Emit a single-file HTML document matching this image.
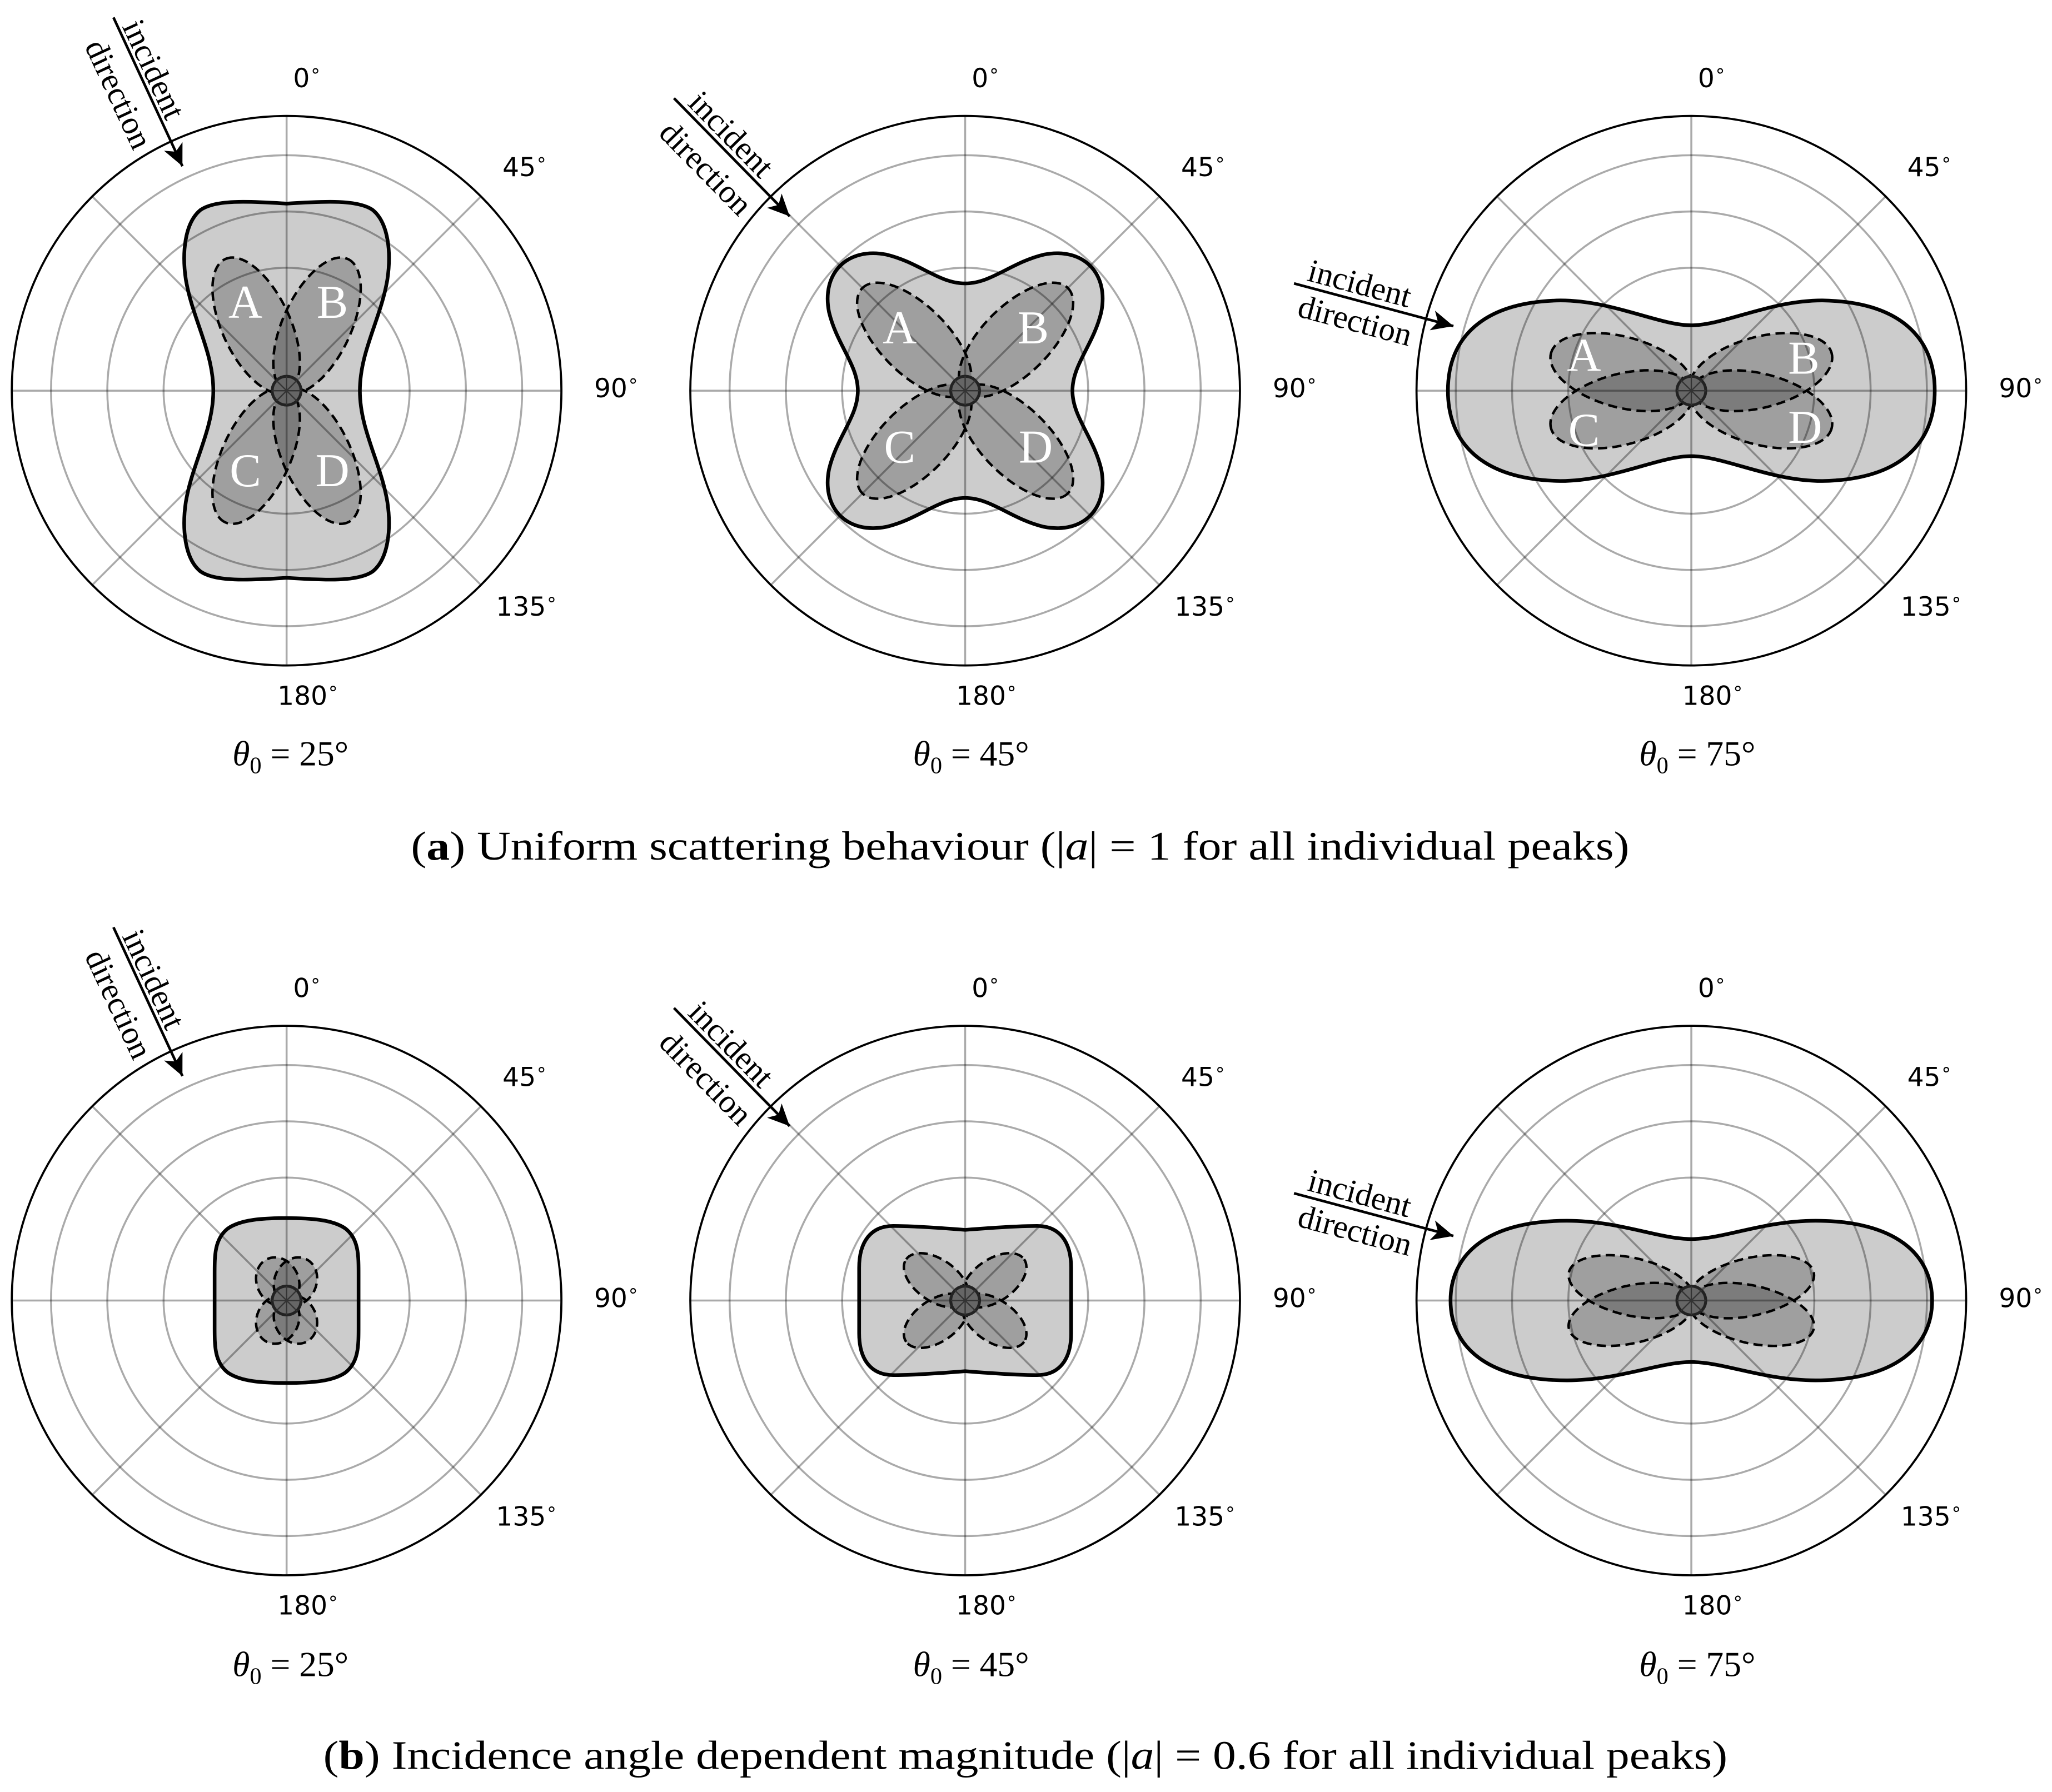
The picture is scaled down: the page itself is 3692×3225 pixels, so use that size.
<!DOCTYPE html>
<html><head><meta charset="utf-8">
<style>
html,body{margin:0;padding:0;background:#fff;}
svg{display:block;}
.grid{stroke:#aaaaaa;stroke-width:1.5;fill:none;mix-blend-mode:multiply;}
.lobe{fill:#000;fill-opacity:0.22;stroke:none;}
.lobed{fill:none;stroke:#000;stroke-width:1.9;stroke-dasharray:7 4;}
.shp{fill:#cccccc;stroke:none;}
.shps{fill:none;stroke:#000;stroke-width:2.8;}
</style></head>
<body>
<svg width="3692" height="3225" viewBox="0 0 1568 1369.6" xmlns="http://www.w3.org/2000/svg">
<defs>
<marker id="ah" markerUnits="userSpaceOnUse" markerWidth="20" markerHeight="20" refX="0" refY="0" viewBox="-16 -8 18 16" orient="auto">
<path d="M0,0 L-15,-7 L-11,0 L-15,7 Z" fill="#000"/>
</marker>
<g id="grid">
<circle class="grid" r="94"/><circle class="grid" r="137"/><circle class="grid" r="180"/>
<path class="grid" d="M0,-210V210M-210,0H210M-148.5,-148.5L148.5,148.5M148.5,-148.5L-148.5,148.5"/>
</g>
<g id="frame">
<circle r="11" fill="#666" stroke="#222" stroke-width="2.2"/>
<path d="M0,-11V11M-11,0H11M-7.8,-7.8L7.8,7.8M7.8,-7.8L-7.8,7.8" stroke="#333" stroke-width="1"/>
<circle r="210" fill="none" stroke="#000" stroke-width="1.6"/>
<g style="font-family:'DejaVu Sans','Liberation Sans',sans-serif;font-size:20px" fill="#000">
<text x="5" y="-232">0<tspan font-size="14" dy="-8">∘</tspan></text>
<text x="165" y="-164">45<tspan font-size="14" dy="-8">∘</tspan></text>
<text x="235" y="5">90<tspan font-size="14" dy="-8">∘</tspan></text>
<text x="160" y="172">135<tspan font-size="14" dy="-8">∘</tspan></text>
<text x="-7" y="240">180<tspan font-size="14" dy="-8">∘</tspan></text>
</g>
</g>
<path id="s1" d="M0,-143 C30,-145 55,-146 66,-138 C78,-128 80,-105 77,-85 C72,-55 56,-30 56,0 C56,30 72,55 77,85 C80,105 78,128 66,138 C55,146 30,145 0,143 C-30,145 -55,146 -66,138 C-78,128 -80,105 -77,85 C-72,55 -56,30 -56,0 C-56,-30 -72,-55 -77,-85 C-80,-105 -78,-128 -66,-138 C-55,-146 -30,-145 0,-143 Z"/>
<path id="s2" d="M0,-82 C20,-82 35,-98 60,-104 C90,-110 110,-90 104,-60 C98,-35 82,-20 82,0 C82,20 98,35 104,60 C110,90 90,110 60,104 C35,98 20,82 0,82 C-20,82 -35,98 -60,104 C-90,110 -110,90 -104,60 C-98,35 -82,20 -82,0 C-82,-20 -98,-35 -104,-60 C-110,-90 -90,-110 -60,-104 C-35,-98 -20,-82 0,-82 Z"/>
<path id="s3" d="M-186,0 C-186,-40 -160,-68 -100,-69 C-60,-69 -25,-50 0,-50 C25,-50 60,-69 100,-69 C160,-68 186,-40 186,0 C186,40 160,68 100,69 C60,69 25,50 0,50 C-25,50 -60,69 -100,69 C-160,68 -186,40 -186,0 Z"/>
<path id="b1" d="M0,-63 C18,-63 35,-62 45,-55 C55,-47 55,-35 55,-20 L55,20 C55,35 55,47 45,55 C35,62 18,63 0,63 C-18,63 -35,62 -45,55 C-55,47 -55,35 -55,20 L-55,-20 C-55,-35 -55,-47 -45,-55 C-35,-62 -18,-63 0,-63 Z"/>
<path id="b2" d="M0,-54 C25,-56 45,-57 55,-57 C72,-57 81,-45 81,-25 L81,25 C81,45 72,57 55,57 C45,57 25,56 0,54 C-25,56 -45,57 -55,57 C-72,57 -81,45 -81,25 L-81,-25 C-81,-45 -72,-57 -55,-57 C-45,-57 -25,-56 0,-54 Z"/>
<path id="b3" d="M-184,0 C-184,-36 -155,-61 -95,-61 C-55,-61 -25,-47 0,-47 C25,-47 55,-61 95,-61 C155,-61 184,-36 184,0 C184,36 155,61 95,61 C55,61 25,47 0,47 C-25,47 -55,61 -95,61 C-155,61 -184,36 -184,0 Z"/>
</defs>

<g style="font-family:'Liberation Serif',serif;font-size:36px" fill="#fff" text-anchor="middle" dominant-baseline="central">
</g>

<!-- ===== TOP ROW ===== -->
<g transform="translate(219,298.6)">
<use href="#s1" class="shp"/>
<g class="lobe">
<ellipse transform="rotate(245)" cx="55" rx="56" ry="26"/><ellipse transform="rotate(-65)" cx="55" rx="56" ry="26"/>
<ellipse transform="rotate(115)" cx="55" rx="56" ry="26"/><ellipse transform="rotate(65)" cx="55" rx="56" ry="26"/>
</g>
<use href="#grid"/>
<g class="lobed">
<ellipse transform="rotate(245)" cx="55" rx="56" ry="26"/><ellipse transform="rotate(-65)" cx="55" rx="56" ry="26"/>
<ellipse transform="rotate(115)" cx="55" rx="56" ry="26"/><ellipse transform="rotate(65)" cx="55" rx="56" ry="26"/>
</g>
<use href="#s1" class="shps"/>
<use href="#frame"/>
<g style="font-family:'Liberation Serif',serif;font-size:36px" fill="#fff" text-anchor="middle" dominant-baseline="central">
<text x="-31.5" y="-67.5">A</text><text x="35" y="-67.5">B</text>
<text x="-31.5" y="61">C</text><text x="35" y="61">D</text>
</g>
</g>

<g transform="translate(737.5,298.6)">
<use href="#s2" class="shp"/>
<g class="lobe">
<ellipse transform="rotate(225)" cx="55" rx="56" ry="26"/><ellipse transform="rotate(-45)" cx="55" rx="56" ry="26"/>
<ellipse transform="rotate(135)" cx="55" rx="56" ry="26"/><ellipse transform="rotate(45)" cx="55" rx="56" ry="26"/>
</g>
<use href="#grid"/>
<g class="lobed">
<ellipse transform="rotate(225)" cx="55" rx="56" ry="26"/><ellipse transform="rotate(-45)" cx="55" rx="56" ry="26"/>
<ellipse transform="rotate(135)" cx="55" rx="56" ry="26"/><ellipse transform="rotate(45)" cx="55" rx="56" ry="26"/>
</g>
<use href="#s2" class="shps"/>
<use href="#frame"/>
<g style="font-family:'Liberation Serif',serif;font-size:36px" fill="#fff" text-anchor="middle" dominant-baseline="central">
<text x="-50" y="-48">A</text><text x="52" y="-48">B</text>
<text x="-50" y="43">C</text><text x="54" y="43">D</text>
</g>
</g>

<g transform="translate(1292.4,298.6)">
<use href="#s3" class="shp"/>
<g class="lobe">
<ellipse transform="rotate(195)" cx="55" rx="56" ry="27"/><ellipse transform="rotate(-15)" cx="55" rx="56" ry="27"/>
<ellipse transform="rotate(165)" cx="55" rx="56" ry="27"/><ellipse transform="rotate(15)" cx="55" rx="56" ry="27"/>
</g>
<use href="#grid"/>
<g class="lobed">
<ellipse transform="rotate(195)" cx="55" rx="56" ry="27"/><ellipse transform="rotate(-15)" cx="55" rx="56" ry="27"/>
<ellipse transform="rotate(165)" cx="55" rx="56" ry="27"/><ellipse transform="rotate(15)" cx="55" rx="56" ry="27"/>
</g>
<use href="#s3" class="shps"/>
<use href="#frame"/>
<g style="font-family:'Liberation Serif',serif;font-size:36px" fill="#fff" text-anchor="middle" dominant-baseline="central">
<text x="-82" y="-27">A</text><text x="86" y="-25">B</text>
<text x="-82" y="30">C</text><text x="87" y="28">D</text>
</g>
</g>

<!-- ===== BOTTOM ROW ===== -->
<g transform="translate(219,994)">
<use href="#b1" class="shp"/>
<g class="lobe">
<ellipse transform="rotate(245)" cx="16" rx="19" ry="16"/><ellipse transform="rotate(-65)" cx="16" rx="19" ry="16"/>
<ellipse transform="rotate(115)" cx="16" rx="19" ry="16"/><ellipse transform="rotate(65)" cx="16" rx="19" ry="16"/>
</g>
<use href="#grid"/>
<g class="lobed">
<ellipse transform="rotate(245)" cx="16" rx="19" ry="16"/><ellipse transform="rotate(-65)" cx="16" rx="19" ry="16"/>
<ellipse transform="rotate(115)" cx="16" rx="19" ry="16"/><ellipse transform="rotate(65)" cx="16" rx="19" ry="16"/>
</g>
<use href="#b1" class="shps"/>
<use href="#frame"/>
</g>

<g transform="translate(737.5,994)">
<use href="#b2" class="shp"/>
<g class="lobe">
<ellipse transform="rotate(215)" cx="27" rx="28" ry="16"/><ellipse transform="rotate(-35)" cx="27" rx="28" ry="16"/>
<ellipse transform="rotate(145)" cx="27" rx="28" ry="16"/><ellipse transform="rotate(35)" cx="27" rx="28" ry="16"/>
</g>
<use href="#grid"/>
<g class="lobed">
<ellipse transform="rotate(215)" cx="27" rx="28" ry="16"/><ellipse transform="rotate(-35)" cx="27" rx="28" ry="16"/>
<ellipse transform="rotate(145)" cx="27" rx="28" ry="16"/><ellipse transform="rotate(35)" cx="27" rx="28" ry="16"/>
</g>
<use href="#b2" class="shps"/>
<use href="#frame"/>
</g>

<g transform="translate(1292.4,994)">
<use href="#b3" class="shp"/>
<g class="lobe">
<ellipse transform="rotate(193)" cx="47" rx="49" ry="22"/><ellipse transform="rotate(-13)" cx="47" rx="49" ry="22"/>
<ellipse transform="rotate(167)" cx="47" rx="49" ry="22"/><ellipse transform="rotate(13)" cx="47" rx="49" ry="22"/>
</g>
<use href="#grid"/>
<g class="lobed">
<ellipse transform="rotate(193)" cx="47" rx="49" ry="22"/><ellipse transform="rotate(-13)" cx="47" rx="49" ry="22"/>
<ellipse transform="rotate(167)" cx="47" rx="49" ry="22"/><ellipse transform="rotate(13)" cx="47" rx="49" ry="22"/>
</g>
<use href="#b3" class="shps"/>
<use href="#frame"/>
</g>

<!-- ===== incident arrows ===== -->
<g id="arr1">
<line x1="86.7" y1="13.3" x2="139.4" y2="127" stroke="#000" stroke-width="2" marker-end="url(#ah)"/>
<text style="font-family:'Liberation Serif',serif;font-size:25px" text-anchor="middle" dominant-baseline="central" transform="translate(117.6,53) rotate(65)">incident</text>
<text style="font-family:'Liberation Serif',serif;font-size:25px" text-anchor="middle" dominant-baseline="central" transform="translate(90.7,72) rotate(65)">direction</text>
</g>
<g id="arr2">
<line x1="515" y1="75" x2="603.4" y2="165.3" stroke="#000" stroke-width="2" marker-end="url(#ah)"/>
<text style="font-family:'Liberation Serif',serif;font-size:25px" text-anchor="middle" dominant-baseline="central" transform="translate(558.8,102.6) rotate(45.6)">incident</text>
<text style="font-family:'Liberation Serif',serif;font-size:25px" text-anchor="middle" dominant-baseline="central" transform="translate(539.4,128.6) rotate(45.6)">direction</text>
</g>
<g id="arr3">
<line x1="988.8" y1="216.6" x2="1110.6" y2="249.2" stroke="#000" stroke-width="2" marker-end="url(#ah)"/>
<text style="font-family:'Liberation Serif',serif;font-size:25px" text-anchor="middle" dominant-baseline="central" transform="translate(1039,216.6) rotate(15)">incident</text>
<text style="font-family:'Liberation Serif',serif;font-size:25px" text-anchor="middle" dominant-baseline="central" transform="translate(1035.5,245) rotate(15)">direction</text>
</g>
<use href="#arr1" y="695.4"/>
<use href="#arr2" y="695.4"/>
<use href="#arr3" y="695.4"/>

<!-- ===== theta labels ===== -->
<g style="font-family:'Liberation Serif',serif;font-size:27px" text-anchor="middle" fill="#000">
<text x="222" y="585"><tspan font-style="italic">θ</tspan><tspan font-size="18" dy="6">0</tspan><tspan dy="-6"> = 25°</tspan></text>
<text x="742" y="585"><tspan font-style="italic">θ</tspan><tspan font-size="18" dy="6">0</tspan><tspan dy="-6"> = 45°</tspan></text>
<text x="1297" y="585"><tspan font-style="italic">θ</tspan><tspan font-size="18" dy="6">0</tspan><tspan dy="-6"> = 75°</tspan></text>
<text x="222" y="1281"><tspan font-style="italic">θ</tspan><tspan font-size="18" dy="6">0</tspan><tspan dy="-6"> = 25°</tspan></text>
<text x="742" y="1281"><tspan font-style="italic">θ</tspan><tspan font-size="18" dy="6">0</tspan><tspan dy="-6"> = 45°</tspan></text>
<text x="1297" y="1281"><tspan font-style="italic">θ</tspan><tspan font-size="18" dy="6">0</tspan><tspan dy="-6"> = 75°</tspan></text>
</g>

<!-- ===== captions ===== -->
<text style="font-family:'Liberation Serif',serif;font-size:31px" x="314" y="657" textLength="931" lengthAdjust="spacingAndGlyphs">(<tspan font-weight="bold">a</tspan>) Uniform scattering behaviour (|<tspan font-style="italic">a</tspan>| = 1 for all individual peaks)</text>
<text style="font-family:'Liberation Serif',serif;font-size:31px" x="247" y="1352" textLength="1073" lengthAdjust="spacingAndGlyphs">(<tspan font-weight="bold">b</tspan>) Incidence angle dependent magnitude (|<tspan font-style="italic">a</tspan>| = 0.6 for all individual peaks)</text>
</svg>
</body></html>
